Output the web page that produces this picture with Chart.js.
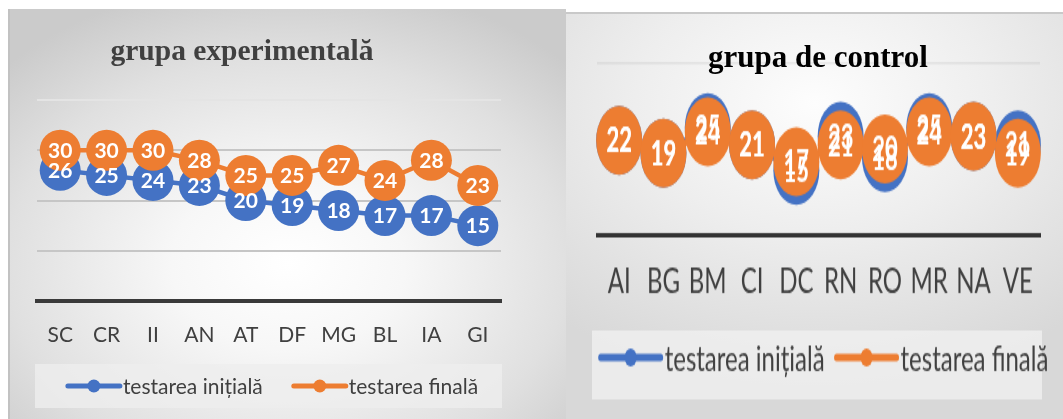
<!DOCTYPE html>
<html>
<head>
<meta charset="utf-8">
<script src="https://cdn.jsdelivr.net/npm/chart.js@4.4.0/dist/chart.umd.min.js"></script>
<style>
body{margin:0;background:#fff;width:1063px;height:419px;position:relative;overflow:hidden;}
#leftPanel{position:absolute;left:8px;top:9px;width:558px;height:410px;border-left:2px solid #c2c2c2;box-sizing:border-box;
  background:radial-gradient(ellipse 70% 70% at 50% 62%, #ffffff 0%, #f7f7f7 30%, #e0e0e0 72%, #cbcbcb 100%);}
#leftChart{position:absolute;left:-2px;top:0;}
#rightPanel{position:absolute;left:566px;top:12px;width:497px;height:407px;border-top:2px solid #c9c9c9;box-sizing:border-box;
  background:radial-gradient(ellipse 80% 70% at 50% 22%, #fdfdfd 0%, #eeeeee 45%, #d8d8d8 100%);}
#rightCanvas{position:absolute;left:0;top:0;transform:scaleY(1.5);transform-origin:0 0;}
.title{position:absolute;text-align:center;font-family:"Liberation Serif";font-weight:bold;}
</style>
</head>
<body>
<div id="leftPanel"><canvas id="leftChart" width="558" height="410"></canvas></div>
<div id="rightPanel"><canvas id="rightCanvas" width="497" height="271"></canvas></div>
<div class="title" style="left:0;width:484px;top:34px;color:#404040;font-size:29.5px;line-height:32px;">grupa experimentală</div>
<div class="title" style="left:618px;width:400px;top:40px;color:#000;font-size:31px;line-height:34px;">grupa de control</div>
<script>
var seriesNames = ['testarea inițială', 'testarea finală'];

var expLabels  = ['SC','CR','II','AN','AT','DF','MG','BL','IA','GI'];
var expInitial = [26,25,24,23,20,19,18,17,17,15];
var expFinal   = [30,30,30,28,25,25,27,24,28,23];

var ctrlLabels  = ['AI','BG','BM','CI','DC','RN','RO','MR','NA','VE'];
var ctrlInitial = [22,19,25,21,15,23,18,25,23,21];
var ctrlFinal   = [22,19,24,21,17,21,20,24,23,19];

var blue = '#4472C4';
var orange = '#ED7D31';

// value labels sit in the middle of each marker
const dataLabels = {
  id: 'dataLabels',
  afterDatasetsDraw(chart, args, opts) {
    const ctx = chart.ctx;
    ctx.save();
    ctx.font = opts.font;
    ctx.fillStyle = '#fff';
    ctx.textAlign = 'center';
    ctx.textBaseline = 'middle';
    chart.data.datasets.forEach((ds, i) => {
      chart.getDatasetMeta(i).data.forEach((pt, j) => {
        ctx.fillText(ds.data[j], pt.x, pt.y + 1);
      });
    });
    ctx.restore();
  }
};

// excel style legend: line with a dot, in a light box
const lineLegend = {
  id: 'lineLegend',
  afterDraw(chart, args, o) {
    const ctx = chart.ctx;
    ctx.save();
    ctx.fillStyle = o.boxColor;
    ctx.fillRect(o.box[0], o.box[1], o.box[2], o.box[3]);
    ctx.font = o.font;
    const widths = chart.data.datasets.map(ds => ctx.measureText(ds.label).width);
    let total = o.itemGap * (widths.length - 1);
    widths.forEach(w => total += o.lineLen + o.textGap + w);
    let x = (chart.chartArea.left + chart.chartArea.right) / 2 - total / 2 + o.shift;
    const y = o.y;
    chart.data.datasets.forEach((ds, i) => {
      ctx.strokeStyle = ds.borderColor;
      ctx.lineWidth = o.lineWidth;
      ctx.lineCap = 'round';
      ctx.beginPath(); ctx.moveTo(x, y); ctx.lineTo(x + o.lineLen, y); ctx.stroke();
      ctx.fillStyle = ds.borderColor;
      ctx.beginPath(); ctx.arc(x + o.lineLen / 2, y, o.dot, 0, Math.PI * 2); ctx.fill();
      ctx.fillStyle = o.color;
      ctx.textAlign = 'left';
      ctx.textBaseline = 'middle';
      ctx.fillText(ds.label, x + o.lineLen + o.textGap, y + 1);
      x += o.lineLen + o.textGap + widths[i] + o.itemGap;
    });
    ctx.restore();
  }
};

function makeSets(initial, final, radius){
  return [
    {label: seriesNames[0], data: initial, borderColor: blue, backgroundColor: blue, pointBackgroundColor: blue,
     pointRadius: radius, pointHoverRadius: radius, pointBorderWidth: 0, borderWidth: 4.5, order: 1},
    {label: seriesNames[1], data: final, borderColor: orange, backgroundColor: orange, pointBackgroundColor: orange,
     pointRadius: radius, pointHoverRadius: radius, pointBorderWidth: 0, borderWidth: 4.5, order: 0}
  ];
}

new Chart(document.getElementById('leftChart'), {
  type: 'line',
  data: {labels: expLabels, datasets: makeSets(expInitial, expFinal, 20.5)},
  options: {
    responsive: false,
    animation: false,
    layout: {padding: {top: 91, left: 29, right: 65, bottom: 0}},
    plugins: {
      legend: {display: false},
      tooltip: {enabled: false},
      dataLabels: {font: 'bold 21px Lato'},
      lineLegend: {box: [27, 355, 467, 44], boxColor: 'rgba(238,238,238,0.8)', font: '21px Lato', color: '#404040',
        y: 377, lineLen: 52, textGap: 3, itemGap: 31, dot: 6.5, lineWidth: 5, shift: 4}
    },
    scales: {
      x: {
        offset: true,
        grid: {display: false},
        border: {color: '#3a3a3a', width: 4},
        ticks: {color: '#404040', font: {family: 'Lato', size: 21}, padding: 14},
        afterFit(s){ s.height = 118; }
      },
      y: {
        min: 0, max: 40,
        ticks: {display: false, stepSize: 10},
        border: {display: false},
        grid: {color: c => c.tick.value === 40 ? '#e4e4e4' : (c.tick.value === 0 ? 'rgba(0,0,0,0)' : '#c6c6c6'), lineWidth: 2, drawTicks: false},
        afterFit(s){ s.width = 0; }
      }
    }
  },
  plugins: [dataLabels, lineLegend]
});

new Chart(document.getElementById('rightCanvas'), {
  type: 'line',
  data: {labels: ctrlLabels, datasets: makeSets(ctrlInitial, ctrlFinal, 23)},
  options: {
    responsive: false,
    animation: false,
    layout: {padding: {top: 33, left: 31, right: 17, bottom: 0}},
    plugins: {
      legend: {display: false},
      tooltip: {enabled: false},
      dataLabels: {font: 'bold 22px Lato'},
      lineLegend: {box: [26, 211, 450, 46], boxColor: 'rgba(240,240,240,0.8)', font: '24px Lato', color: '#404040',
        y: 229, lineLen: 60, textGap: 4, itemGap: 12, dot: 6, lineWidth: 5, shift: 6}
    },
    scales: {
      x: {
        offset: true,
        grid: {display: false},
        border: {color: '#333333', width: 3},
        ticks: {color: '#404040', font: {family: 'Lato', size: 24}, padding: 9},
        afterFit(s){ s.height = 124; }
      },
      y: {
        min: 0, max: 40,
        ticks: {display: false, stepSize: 10},
        border: {display: false},
        grid: {color: c => c.tick.value === 40 ? 'rgba(0,0,0,0.07)' : 'rgba(0,0,0,0)', lineWidth: 1.5, drawTicks: false},
        afterFit(s){ s.width = 0; }
      }
    }
  },
  plugins: [dataLabels, lineLegend]
});
</script>
</body>
</html>
